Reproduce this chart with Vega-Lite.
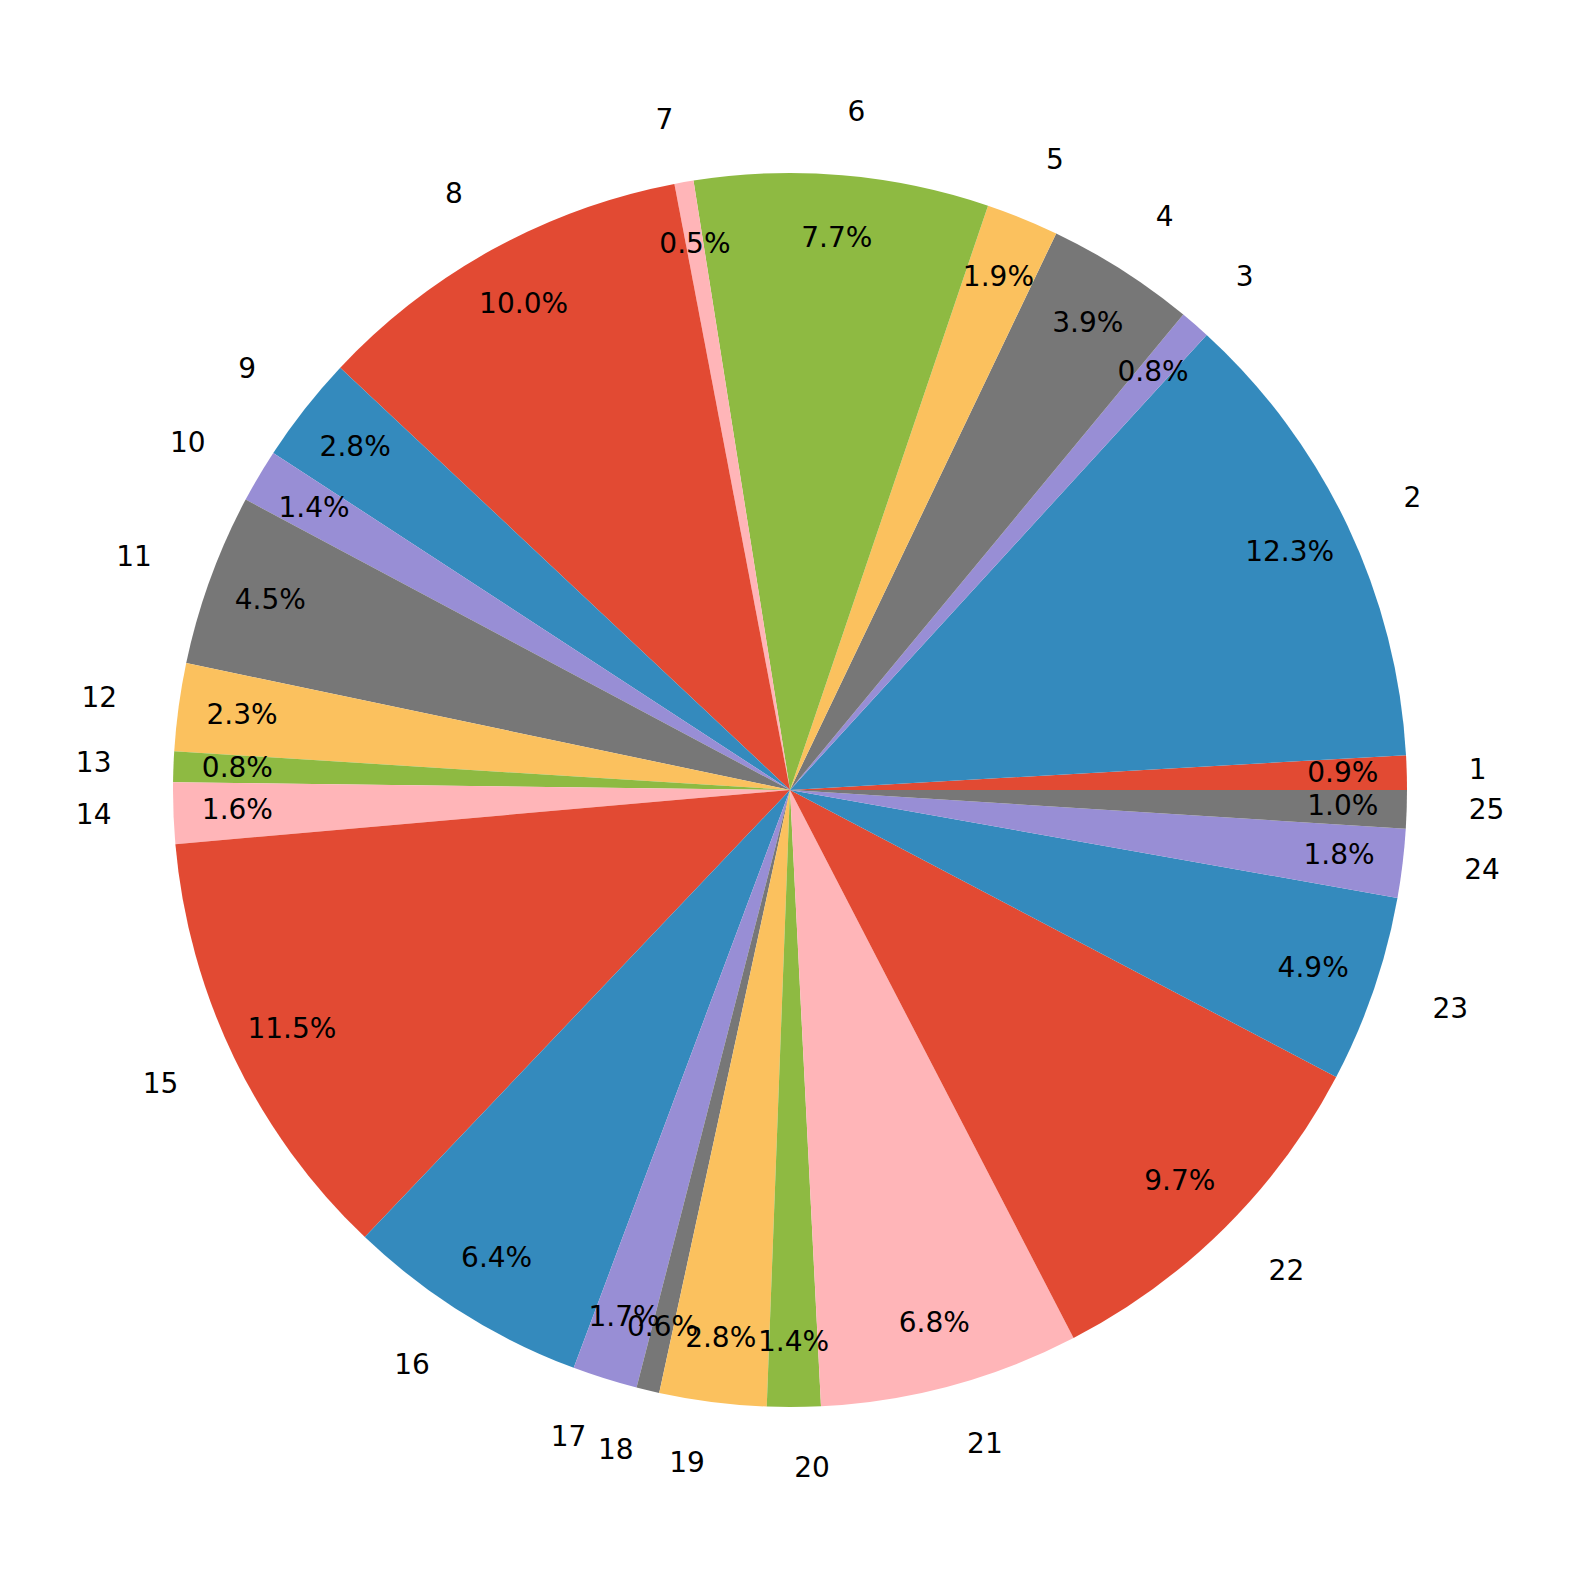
{
  "$schema": "https://vega.github.io/schema/vega-lite/v6.json",
  "width": 1580,
  "height": 1580,
  "autosize": {"type": "fit", "contains": "padding"},
  "padding": 0,
  "background": "white",
  "view": {"stroke": null},
  "data": {"values": [
    {"id": 1, "value": 0.009},
    {"id": 2, "value": 0.123},
    {"id": 3, "value": 0.008},
    {"id": 4, "value": 0.039},
    {"id": 5, "value": 0.019},
    {"id": 6, "value": 0.077},
    {"id": 7, "value": 0.005},
    {"id": 8, "value": 0.100},
    {"id": 9, "value": 0.028},
    {"id": 10, "value": 0.014},
    {"id": 11, "value": 0.045},
    {"id": 12, "value": 0.023},
    {"id": 13, "value": 0.008},
    {"id": 14, "value": 0.016},
    {"id": 15, "value": 0.115},
    {"id": 16, "value": 0.064},
    {"id": 17, "value": 0.017},
    {"id": 18, "value": 0.006},
    {"id": 19, "value": 0.028},
    {"id": 20, "value": 0.014},
    {"id": 21, "value": 0.068},
    {"id": 22, "value": 0.097},
    {"id": 23, "value": 0.049},
    {"id": 24, "value": 0.018},
    {"id": 25, "value": 0.010}
  ]},
  "encoding": {
    "theta": {"field": "value", "type": "quantitative", "stack": true,
      "scale": {"domain": [0, 1], "range": [1.5707963268, -4.7123889804]}},
    "order": {"field": "id", "type": "quantitative"}
  },
  "layer": [
    {
      "mark": {"type": "arc", "outerRadius": 617, "stroke": null},
      "encoding": {
        "color": {"field": "id", "type": "nominal", "legend": null,
          "scale": {
            "domain": [1,2,3,4,5,6,7,8,9,10,11,12,13,14,15,16,17,18,19,20,21,22,23,24,25],
            "range": ["#E24A33","#348ABD","#988ED5","#777777","#FBC15E","#8EBA42","#FFB5B8",
                      "#E24A33","#348ABD","#988ED5","#777777","#FBC15E","#8EBA42","#FFB5B8",
                      "#E24A33","#348ABD","#988ED5","#777777","#FBC15E","#8EBA42","#FFB5B8",
                      "#E24A33","#348ABD","#988ED5","#777777"]}}
      }
    },
    {
      "mark": {"type": "text", "radius": 553, "fontSize": 28, "font": "DejaVu Sans", "color": "black", "align": "center", "baseline": "middle"},
      "encoding": {"text": {"field": "value", "type": "quantitative", "format": ".1%"}}
    },
    {
      "mark": {"type": "text", "radius": 679, "fontSize": 28, "font": "DejaVu Sans", "color": "black", "baseline": "middle",
        "align": {"expr": "cos(PI*(datum.value_start+datum.value_end)) > 0 ? 'left' : 'right'"}},
      "encoding": {"text": {"field": "id", "type": "nominal"}}
    }
  ]
}
